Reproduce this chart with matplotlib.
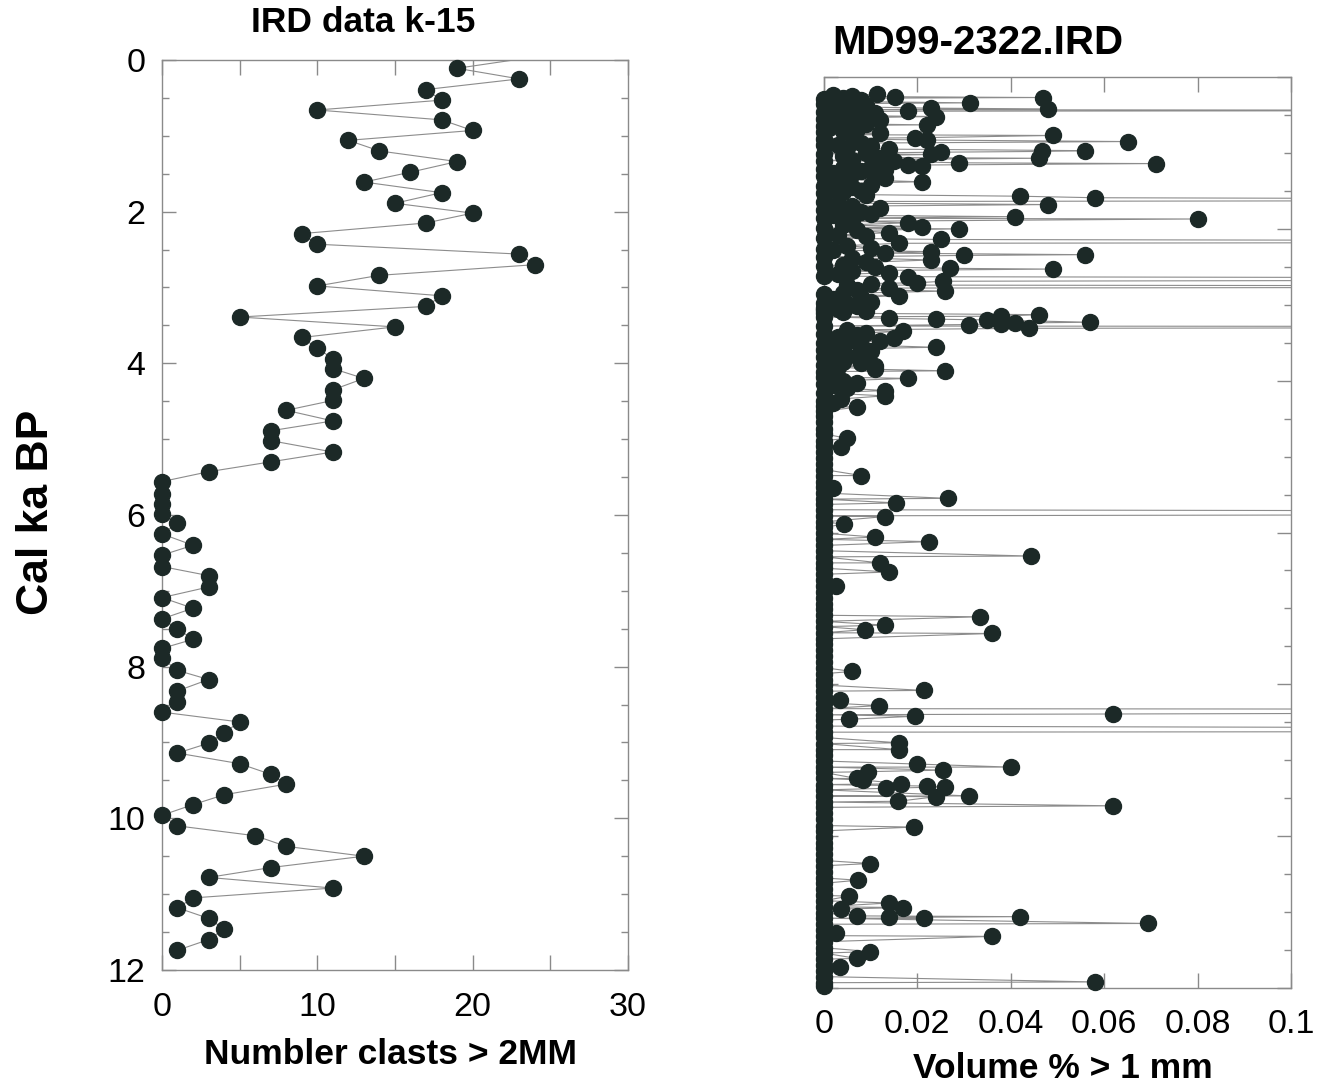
import numpy as np
import matplotlib.pyplot as plt
from matplotlib.ticker import MultipleLocator, FixedLocator, FuncFormatter

plt.rcParams['font.family'] = ['Liberation Sans', 'DejaVu Sans']

# --- left panel: IRD data k-15 (number of clasts > 2 mm vs age) ---
k15_age = [-0.22, 0.11, 0.25, 0.39, 0.53, 0.66, 0.79, 0.93, 1.06, 1.20, 1.34,
           1.48, 1.61, 1.75, 1.89, 2.02, 2.15, 2.29, 2.43, 2.56, 2.70, 2.84,
           2.98, 3.11, 3.25, 3.39, 3.52, 3.66, 3.80, 3.94, 4.07, 4.20, 4.35,
           4.49, 4.62, 4.76, 4.89, 5.02, 5.17, 5.30, 5.43, 5.56, 5.72, 5.86,
           5.99, 6.11, 6.25, 6.40, 6.53, 6.68, 6.80, 6.95, 7.09, 7.23, 7.37,
           7.50, 7.64, 7.76, 7.89, 8.05, 8.17, 8.32, 8.47, 8.60, 8.73, 8.87,
           9.01, 9.14, 9.28, 9.42, 9.55, 9.69, 9.82, 9.96, 10.10, 10.23, 10.37,
           10.50, 10.65, 10.78, 10.92, 11.05, 11.18, 11.32, 11.46, 11.60, 11.74]
k15_clasts = [30, 19, 23, 17, 18, 10, 18, 20, 12, 14, 19,
              16, 13, 18, 15, 20, 17, 9, 10, 23, 24, 14,
              10, 18, 17, 5, 15, 9, 10, 11, 11, 13, 11,
              11, 8, 11, 7, 7, 11, 7, 3, 0, 0, 0,
              0, 1, 0, 2, 0, 0, 3, 3, 0, 2, 0,
              1, 2, 0, 0, 1, 3, 1, 1, 0, 5, 4,
              3, 1, 5, 7, 8, 4, 2, 0, 1, 6, 8,
              13, 7, 3, 11, 2, 1, 3, 4, 3, 1]

# --- right panel: MD99-2322 IRD (volume % > 1 mm vs age) ---
# samples with IRD present (some run off the 0.1 axis limit)
md_age_nz = [0.23, 0.24, 0.25, 0.26, 0.27, 0.28, 0.30, 0.32, 0.34, 0.35, 0.37,
             0.39, 0.41, 0.42, 0.43, 0.44, 0.45, 0.47, 0.49, 0.51, 0.52, 0.54,
             0.56, 0.58, 0.60, 0.62, 0.63, 0.65, 0.67, 0.69, 0.71, 0.74, 0.76,
             0.77, 0.80, 0.83, 0.85, 0.87, 0.89, 0.91, 0.93, 0.95, 0.97, 0.98,
             0.99, 1.00, 1.02, 1.04, 1.06, 1.07, 1.09, 1.11, 1.13, 1.14, 1.16,
             1.17, 1.18, 1.20, 1.22, 1.24, 1.26, 1.28, 1.30, 1.33, 1.35, 1.38,
             1.40, 1.42, 1.45, 1.48, 1.50, 1.52, 1.55, 1.57, 1.59, 1.62, 1.66,
             1.68, 1.70, 1.73, 1.76, 1.78, 1.80, 1.82, 1.84, 1.87, 1.90, 1.92,
             1.95, 1.97, 2.00, 2.02, 2.05, 2.08, 2.10, 2.14, 2.17, 2.19, 2.22,
             2.25, 2.28, 2.30, 2.32, 2.34, 2.35, 2.38, 2.41, 2.44, 2.47, 2.50,
             2.52, 2.53, 2.55, 2.58, 2.60, 2.63, 2.66, 2.69, 2.71, 2.72, 2.74,
             2.76, 2.78, 2.80, 2.82, 2.85, 2.88, 2.90, 2.93, 2.96, 2.99, 3.02,
             3.05, 3.08, 3.10, 3.13, 3.15, 3.18, 3.19, 3.20, 3.23, 3.24, 3.25,
             3.26, 3.29, 3.31, 3.33, 3.35, 3.37, 3.40, 3.42, 3.44, 3.46, 3.48,
             3.51, 3.53, 3.56, 3.58, 3.61, 3.64, 3.67, 3.70, 3.73, 3.75, 3.77,
             3.80, 3.82, 3.85, 3.87, 3.92, 3.97, 4.00, 4.03, 4.06, 4.10, 4.13,
             4.20, 4.24, 4.30, 4.35,
             4.76, 4.87, 5.25, 5.41, 5.55, 5.61, 5.74, 5.79, 5.89, 6.06, 6.12,
             6.31, 6.40, 6.52, 6.71, 7.11, 7.22, 7.28, 7.33, 7.83, 8.08, 8.20,
             8.28, 8.34, 8.39, 8.42, 8.46, 8.61, 8.77, 8.86, 9.05, 9.09, 9.13,
             9.15, 9.24, 9.26, 9.31, 9.34, 9.35, 9.37, 9.47, 9.48, 9.54, 9.60,
             9.88, 10.36, 10.58, 10.79, 10.88, 10.94, 10.96, 11.05, 11.06, 11.07,
             11.08, 11.15, 11.28, 11.32, 11.52, 11.61, 11.72, 11.92]
md_vol_nz = [0.0113, 0.002, 0.006, 0.0152, 0.047, 0.004, 0.008, 0.001, 0.0313, 0.005, 0.009,
             0.003, 0.023, 0.048, 0.006, 0.20, 0.018, 0.011, 0.004, 0.008, 0.024, 0.002,
             0.012, 0.006, 0.003, 0.009, 0.022, 0.005, 0.001, 0.007, 0.004, 0.012, 0.006,
             0.049, 0.0195, 0.022, 0.065, 0.008, 0.003, 0.010, 0.005, 0.014, 0.056, 0.0467,
             0.025, 0.009, 0.023, 0.004, 0.012, 0.046, 0.006, 0.015, 0.029, 0.071, 0.018,
             0.021, 0.010, 0.004, 0.013, 0.008, 0.002, 0.006, 0.011, 0.013, 0.005, 0.021,
             0.003, 0.010, 0.006, 0.002, 0.008, 0.004, 0.009, 0.042, 0.058, 0.25, 0.003,
             0.048, 0.006, 0.012, 0.004, 0.008, 0.010, 0.002, 0.041, 0.080, 0.006, 0.018,
             0.004, 0.021, 0.029, 0.007, 0.014, 0.003, 0.009, 0.025, 0.30, 0.016, 0.005,
             0.010, 0.002, 0.023, 0.013, 0.056, 0.030, 0.006, 0.023, 0.009, 0.004, 0.011,
             0.027, 0.049, 0.006, 0.014, 0.003, 0.018, 0.30, 0.0255, 0.020, 0.010, 0.005,
             0.30, 0.014, 0.007, 0.026, 0.004, 0.016, 0.008, 0.002, 0.010, 0.005, 0.007,
             0.003, 0.009, 0.004, 0.046, 0.038, 0.014, 0.024, 0.035, 0.057, 0.041, 0.038,
             0.031, 0.30, 0.044, 0.005, 0.017, 0.009, 0.007, 0.003, 0.015, 0.006, 0.012,
             0.002, 0.008, 0.024, 0.004, 0.010, 0.003, 0.007, 0.002, 0.009, 0.004, 0.008,
             0.011, 0.003, 0.011, 0.026, 0.002, 0.018, 0.004, 0.007, 0.002, 0.005, 0.013,
             0.013, 0.0037, 0.002, 0.007,
             0.005, 0.0037, 0.008, 0.002, 0.0266, 0.0154, 0.40, 0.013, 0.0044, 0.011, 0.0225,
             0.0444, 0.012, 0.014, 0.0025, 0.0334, 0.013, 0.0087, 0.036, 0.006, 0.0214, 0.0034,
             0.0117, 0.40, 0.062, 0.0196, 0.0053, 0.40, 0.016, 0.016, 0.020, 0.040, 0.0254,
             0.0094, 0.007, 0.0084, 0.0166, 0.022, 0.026, 0.0132, 0.031, 0.024, 0.0159, 0.062,
             0.0192, 0.0098, 0.0073, 0.0053, 0.0139, 0.0169, 0.0037, 0.007, 0.042, 0.0139,
             0.0214, 0.0694, 0.0025, 0.036, 0.0099, 0.007, 0.0035, 0.058]
# samples with no IRD
md_age_zero = [0.29, 0.36, 0.46, 0.55, 0.64, 0.72, 0.81, 0.90, 1.01, 1.10, 1.21,
               1.31, 1.43, 1.53, 1.64, 1.75, 1.86, 1.99, 2.12, 2.27, 2.37, 2.49,
               2.62, 2.86, 2.98, 3.04, 3.07, 3.11, 3.16, 3.28, 3.38, 3.50, 3.60,
               3.69, 3.79, 3.88, 3.95, 4.05, 4.16, 4.27, 4.33,
               4.40, 4.47, 4.55, 4.63, 4.70, 4.79, 4.86, 4.94, 5.02, 5.10, 5.17,
               5.25, 5.33, 5.40, 5.48, 5.56, 5.63, 5.70, 5.78, 5.86, 5.93, 6.01,
               6.09, 6.17, 6.24, 6.32, 6.40, 6.47, 6.55, 6.63, 6.70, 6.78, 6.86,
               6.94, 7.01, 7.09, 7.17, 7.24, 7.32, 7.40, 7.47, 7.55, 7.63, 7.71,
               7.78, 7.86, 7.94, 8.01, 8.09, 8.17, 8.24, 8.32, 8.40, 8.47, 8.55,
               8.63, 8.70, 8.78, 8.86, 8.93, 9.01, 9.09, 9.16, 9.24, 9.32, 9.39,
               9.47, 9.55, 9.62, 9.70, 9.78, 9.86, 9.93, 10.01, 10.09, 10.16, 10.24,
               10.32, 10.39, 10.47, 10.55, 10.62, 10.70, 10.78, 10.85, 10.93, 11.01,
               11.08, 11.16, 11.24, 11.31, 11.39, 11.47, 11.54, 11.62, 11.70, 11.77,
               11.85, 11.93, 11.97]

# merge into one age-ordered series
md_age = np.array(md_age_nz + md_age_zero)
md_vol = np.array(md_vol_nz + [0.0] * len(md_age_zero))
order = np.argsort(md_age, kind='stable')
md_age, md_vol = md_age[order], md_vol[order]

DOT = '#1c2927'
LINE = '#8c8c8c'
SPINE = '#8a8a8a'

fig = plt.figure(figsize=(13.2, 10.88), dpi=100)
ax1 = fig.add_axes([0.1227, 0.1085, 0.3530, 0.8364])
ax2 = fig.add_axes([0.6242, 0.0919, 0.3538, 0.8373])


def style_axes(ax, xpad, ypad):
    for s in ax.spines.values():
        s.set_color(SPINE)
        s.set_linewidth(1.0)
    ax.tick_params(which='both', direction='in', top=True, right=True,
                   color=SPINE, labelcolor='black', labelsize=24.5, width=1.0)
    ax.tick_params(axis='x', which='both', length=11, pad=xpad)
    ax.tick_params(axis='y', which='major', length=10, pad=ypad)
    ax.tick_params(axis='y', which='minor', length=5)
    ax.set_ylim(12, 0)
    ax.yaxis.set_major_locator(MultipleLocator(2))
    ax.yaxis.set_minor_locator(MultipleLocator(0.5))


# left panel
x1 = np.array(k15_clasts, dtype=float)
y1 = np.array(k15_age)
ax1.plot(x1, y1, color=LINE, lw=0.8, zorder=2)
inside = (y1 >= 0) & (y1 <= 12)
ax1.plot(x1[inside], y1[inside], 'o', ms=11.5, color=DOT, mec=DOT,
         clip_on=False, zorder=3)
ax1.set_xlim(0, 30)
ax1.xaxis.set_major_locator(MultipleLocator(10))
ax1.xaxis.set_minor_locator(MultipleLocator(5))
style_axes(ax1, 16, 12)

# right panel
ax2.plot(md_vol, md_age, color=LINE, lw=0.8, zorder=2)
shown = md_vol <= 0.1
ax2.plot(md_vol[shown], md_age[shown], 'o', ms=11.5, color=DOT, mec=DOT,
         clip_on=False, zorder=3)
ax2.set_xlim(0, 0.1)
ax2.xaxis.set_major_locator(FixedLocator([0, 0.02, 0.04, 0.06, 0.08, 0.1]))
ax2.xaxis.set_major_formatter(FuncFormatter(lambda v, p: '%g' % round(v, 3)))
style_axes(ax2, 15, 12)
ax2.tick_params(axis='y', which='both', labelleft=False)

# titles and axis labels
fig.text(363 / 1320, 1 - 22 / 1088, 'IRD data k-15', ha='center', va='center',
         fontsize=25.5, fontweight='bold')
fig.text(978 / 1320, 1 - 43 / 1088, 'MD99-2322.IRD', ha='center', va='center',
         fontsize=29, fontweight='bold')
fig.text(37 / 1320, 1 - 512 / 1088, 'Cal ka BP', rotation=90, ha='center',
         va='center', fontsize=32, fontweight='bold')
fig.text(391 / 1320, 1 - 1055 / 1088, 'Numbler clasts > 2MM', ha='center',
         va='center', fontsize=25.5, fontweight='bold')
fig.text(1063 / 1320, 1 - 1068 / 1088, 'Volume % > 1 mm', ha='center',
         va='center', fontsize=25.5, fontweight='bold')

fig.savefig('out.png', dpi=100)
